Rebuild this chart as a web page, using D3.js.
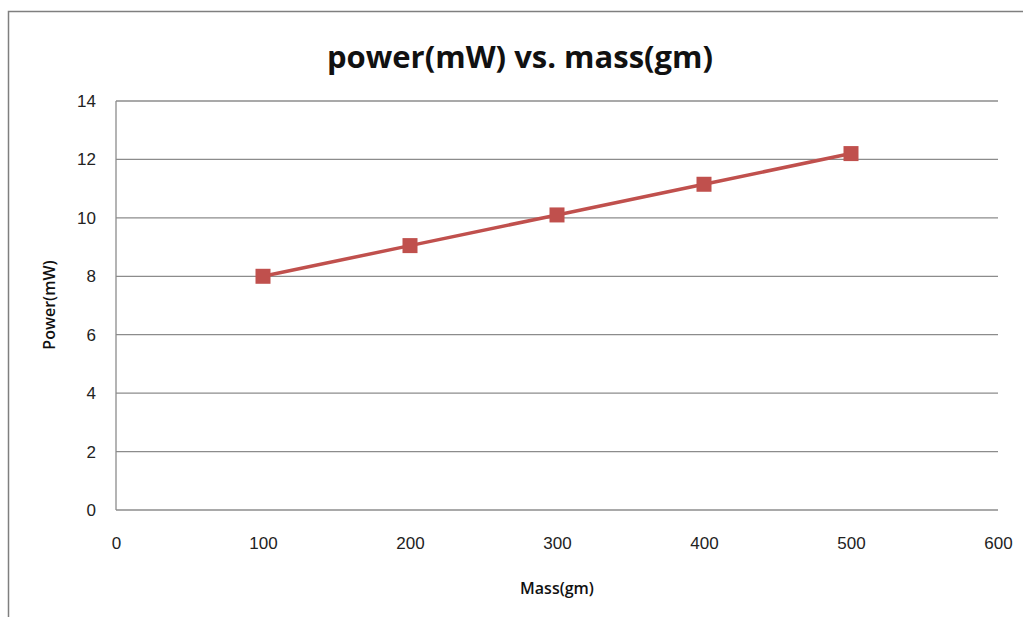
<!DOCTYPE html>
<html>
<head>
<meta charset="utf-8">
<script src="https://cdn.jsdelivr.net/npm/d3@7"></script>
<style>
  body { margin: 0; background: #fff; }
  svg { display: block; font-family: "Open Sans", "DejaVu Sans", sans-serif; }
  .grid line { stroke: #8c8c8c; stroke-width: 1.3; }
  .axis text { fill: #222; font-size: 17px; }
</style>
</head>
<body>
<svg id="chart" width="1023" height="617"></svg>
<script>
const mass = [100, 200, 300, 400, 500];
const power = [8.0, 9.05, 10.1, 11.15, 12.2];
const xTicks = [0, 100, 200, 300, 400, 500, 600];
const yTicks = [0, 2, 4, 6, 8, 10, 12, 14];

const MARGIN = { left: 116, top: 101, right: 25, bottom: 107 };
const WIDTH = 998 - MARGIN.left;
const HEIGHT = 510 - MARGIN.top;

const svg = d3.select("#chart");

// outer chart frame (cropped at right and bottom)
svg.append("path")
  .attr("d", "M8.5,640 V11.5 H1040")
  .attr("fill", "none")
  .attr("stroke", "#7f7f7f")
  .attr("stroke-width", 1.5);

const x = d3.scaleLinear().domain([0, 600]).range([0, WIDTH]);
const y = d3.scaleLinear().domain([0, 14]).range([HEIGHT, 0]);

const g = svg.append("g")
  .attr("transform", `translate(${MARGIN.left},${MARGIN.top})`);

// horizontal gridlines
g.append("g")
  .attr("class", "grid")
  .selectAll("line")
  .data(yTicks)
  .join("line")
  .attr("x1", 0)
  .attr("x2", WIDTH)
  .attr("y1", d => y(d))
  .attr("y2", d => y(d));

// left axis line
g.append("line")
  .attr("x1", 0).attr("x2", 0)
  .attr("y1", 0).attr("y2", HEIGHT)
  .attr("stroke", "#8c8c8c")
  .attr("stroke-width", 1.3);

const yAxis = d3.axisLeft(y).tickValues(yTicks).tickSize(0).tickPadding(20);
g.append("g")
  .attr("class", "y axis")
  .call(yAxis)
  .call(a => a.select(".domain").remove());

const xAxis = d3.axisBottom(x).tickValues(xTicks).tickSize(0).tickPadding(27);
g.append("g")
  .attr("class", "x axis")
  .attr("transform", `translate(0,${HEIGHT})`)
  .call(xAxis)
  .call(a => a.select(".domain").remove());

const points = mass.map((m, i) => ({ m, p: power[i] }));

g.append("path")
  .datum(points)
  .attr("fill", "none")
  .attr("stroke", "#c0504d")
  .attr("stroke-width", 3.5)
  .attr("d", d3.line().x(d => x(d.m)).y(d => y(d.p)));

const S = 15;
g.selectAll("rect.marker")
  .data(points)
  .join("rect")
  .attr("class", "marker")
  .attr("x", d => x(d.m) - S / 2)
  .attr("y", d => y(d.p) - S / 2)
  .attr("width", S)
  .attr("height", S)
  .attr("fill", "#c0504d");

svg.append("text")
  .attr("x", 520)
  .attr("y", 68)
  .attr("text-anchor", "middle")
  .attr("font-size", 31)
  .attr("font-weight", "bold")
  .attr("fill", "#111")
  .text("power(mW) vs. mass(gm)");

svg.append("text")
  .attr("transform", "translate(55,305) rotate(-90)")
  .attr("text-anchor", "middle")
  .attr("font-size", 16)
  .attr("font-weight", 600)
  .attr("fill", "#111")
  .text("Power(mW)");

svg.append("text")
  .attr("x", 557)
  .attr("y", 594)
  .attr("text-anchor", "middle")
  .attr("font-size", 16)
  .attr("font-weight", 600)
  .attr("fill", "#111")
  .text("Mass(gm)");
</script>
</body>
</html>
